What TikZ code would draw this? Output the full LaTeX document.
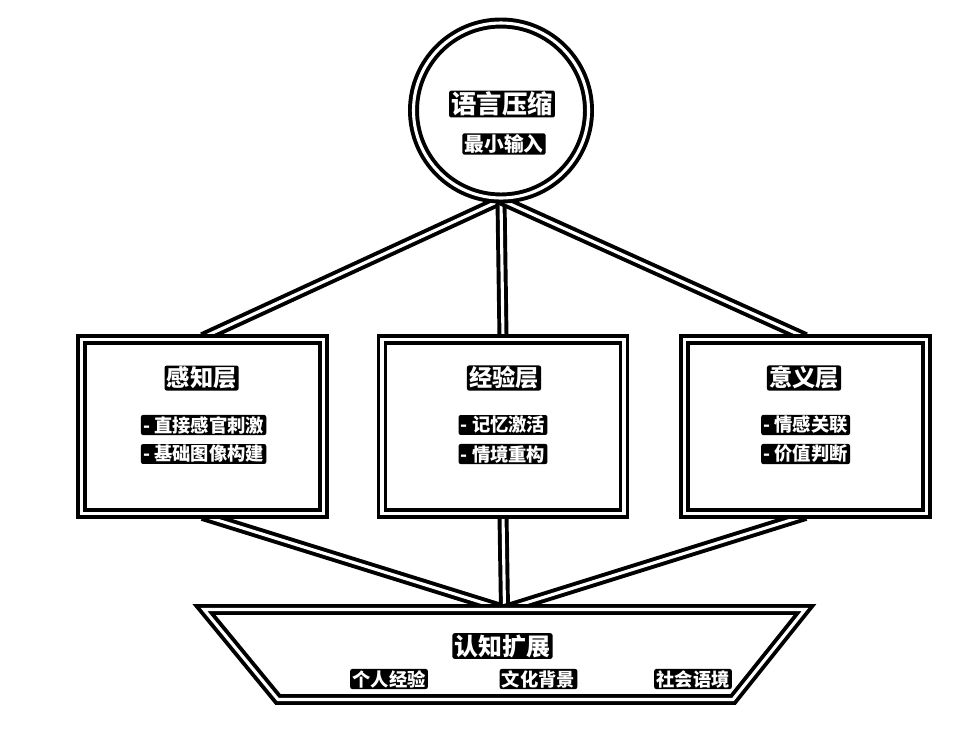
\documentclass[tikz,border=0pt]{standalone}
\usepackage{fontspec}
\usepackage{tikz}
\usetikzlibrary{backgrounds,positioning}

\newfontfamily\cjk{Noto Sans CJK SC}

\begin{document}
\begin{tikzpicture}[
  dbl/.style={draw=black, line width=2.8pt, double=white, double distance=2.2pt},
  cnode/.style={circle, dbl, fill=white, minimum size=4.375cm},
  lnode/.style={rectangle, dbl, fill=white, minimum width=6.05cm, minimum height=4.35cm},
  txt/.style={text=white, fill=black, rounded corners=1.5pt, inner xsep=1.6pt, inner ysep=0.9pt,
              font=\cjk\bfseries\fontsize{13}{15}\selectfont},
  ttl/.style={txt, font=\cjk\bfseries\fontsize{16.5}{19}\selectfont},
  big/.style={txt, font=\cjk\bfseries\fontsize{18}{21}\selectfont}]

\useasboundingbox (0,0) rectangle (24.4,-18.525);

  \node (top) [cnode] at (12.525,-2.7625) {};
  \node (perc) [lnode] at (5.0625,-10.6625) {};
  \node (exp) [lnode] at (12.575,-10.6625) {};
  \node (mean) [lnode] at (20.1375,-10.6625) {};

%% base: inverted trapezoid
  \coordinate (bl) at (6.95,-17.4875);
  \coordinate (br) at (18.325,-17.4875);
  \coordinate (tr) at (20.125,-15.2375);
  \coordinate (tl) at (5.1,-15.2375);
  \coordinate (base) at (12.6125,-15.2375);
  \draw [dbl, fill=white] (tl) -- (tr) -- (br) -- (bl) -- cycle;

\begin{scope}[on background layer]
  \draw [dbl] (top.south) -- (perc.north);
  \draw [dbl] (top.south) -- (exp.north);
  \draw [dbl] (top.south) -- (mean.north);
  \draw [dbl] (perc.south) -- (base);
  \draw [dbl] (exp.south) -- (base);
  \draw [dbl] (mean.south) -- (base);
\end{scope}

%% circle
  \node (topt) [big] at (12.55,-2.6) {语言压缩};
  \node (tops) [txt, font=\cjk\bfseries\fontsize{14}{16}\selectfont] at (12.6,-3.6) {最小输入};

%% three layers
  \node (perct) [ttl] at (5.04,-9.45) {感知层};
  \node (perc1) [txt] at (5.09,-10.625) {- 直接感官刺激};
  \node (perc2) [txt] at (5.09,-11.35) {- 基础图像构建};

  \node (expt) [ttl] at (12.6,-9.45) {经验层};
  \node (exp1) [txt] at (12.575,-10.625) {- 记忆激活};
  \node (exp2) [txt] at (12.575,-11.35) {- 情境重构};

  \node (meant) [ttl] at (20.1,-9.45) {意义层};
  \node (mean1) [txt] at (20.14,-10.625) {- 情感关联};
  \node (mean2) [txt] at (20.14,-11.35) {- 价值判断};

%% base labels
  \node (baset) [txt, font=\cjk\bfseries\fontsize{17}{20}\selectfont] at (12.5625,-16.15) {认知扩展};
  \node (base1) [txt] at (9.725,-16.975) {个人经验};
  \node (base2) [txt] at (13.4625,-16.975) {文化背景};
  \node (base3) [txt] at (17.325,-16.975) {社会语境};

\end{tikzpicture}
\end{document}
